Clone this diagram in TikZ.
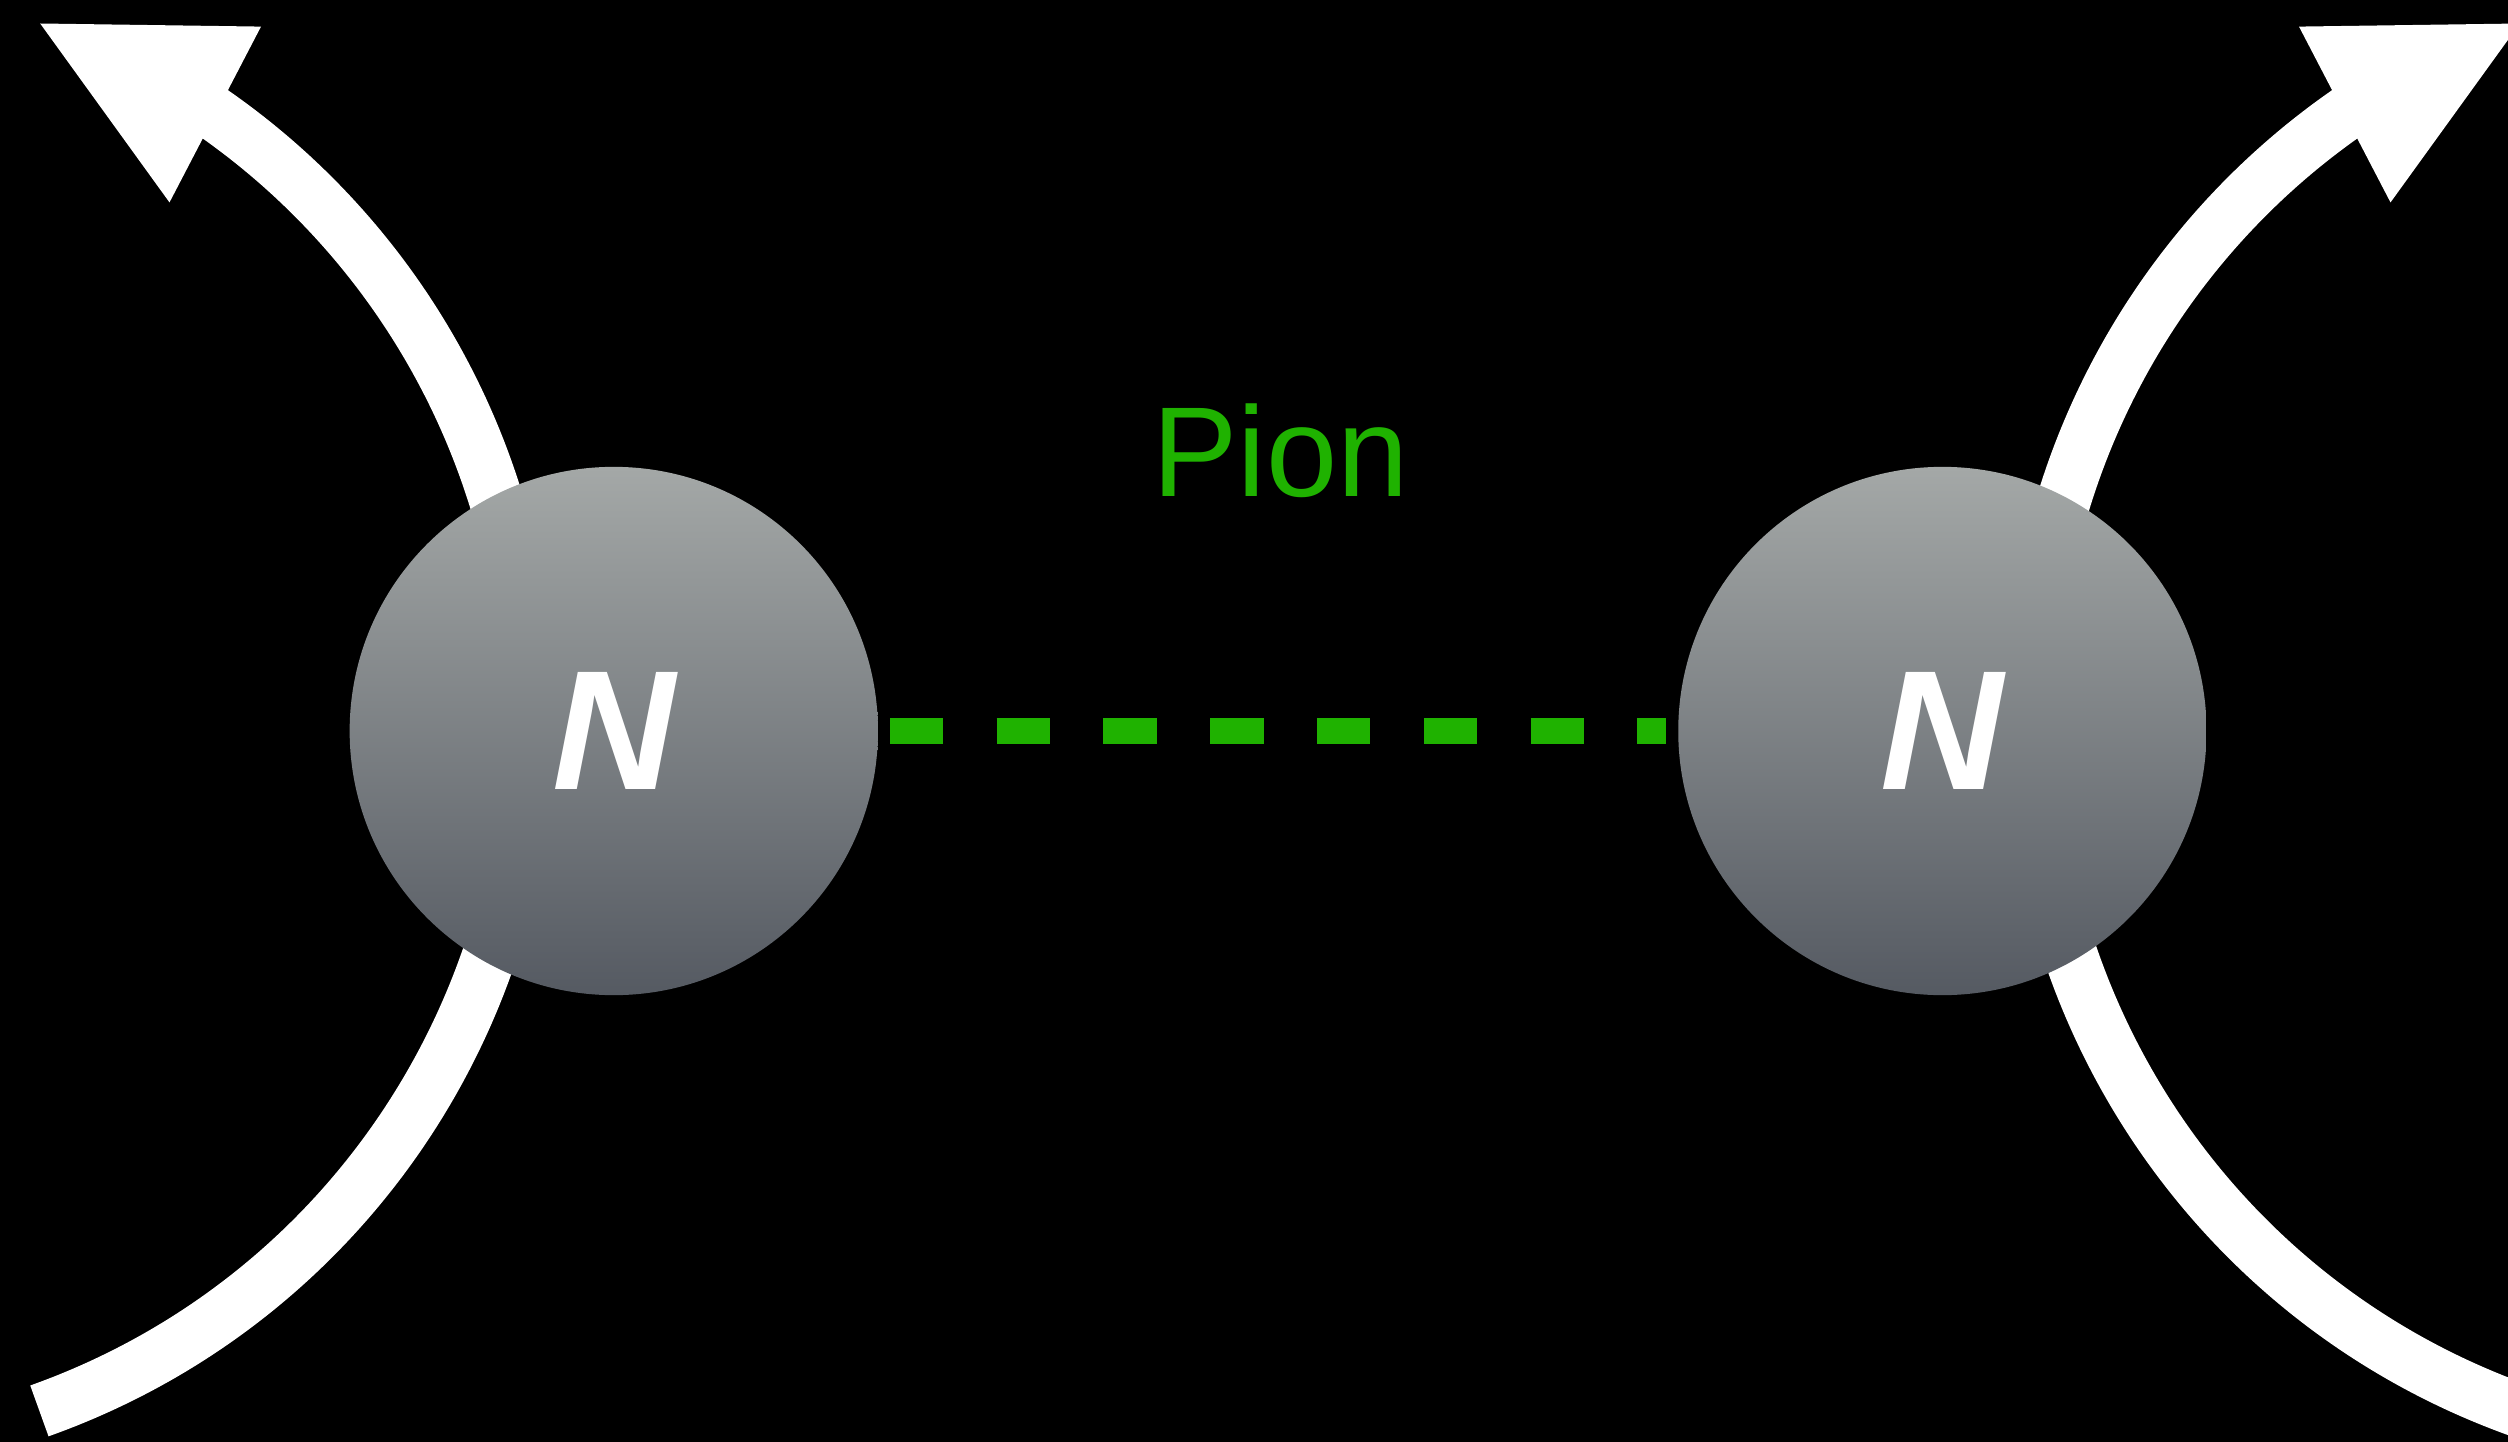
\documentclass[tikz,border=0pt]{standalone}
\usepackage{fontspec}
\setmainfont{Liberation Sans}
\definecolor{piongreen}{RGB}{31,178,0}
\definecolor{ntop}{RGB}{164,168,167}
\definecolor{nbot}{RGB}{85,90,98}
\begin{document}
\begin{tikzpicture}[x=0.01cm,y=0.01cm,
  nucleon/.style={circle, minimum size=5.28cm, inner sep=0pt, outer sep=0pt,
    top color=ntop, bottom color=nbot, draw=none, text=white,
    font=\fontsize{48.4pt}{48.4pt}\selectfont\bfseries\itshape},
  particle/.style={draw=white, line width=0.54cm, line cap=butt},
  arrowtip/.style={fill=white},
  pionline/.style={draw=piongreen, line width=0.267cm, line cap=butt,
    dash pattern=on 0.533cm off 0.534cm, shorten <=0.12cm, shorten >=0.12cm},
  pionlabel/.style={text=piongreen, inner sep=0pt,
    font=\fontsize{36.4pt}{36.4pt}\selectfont}]
\useasboundingbox (0,0) rectangle (2508,1441);
\fill[black] (-20,-20) rectangle (2528,1461);
\clip (-10,-10) rectangle (2518,1451);

% particle lines (incoming ends and arrowheads)
\coordinate (inL) at (39.4,30.1);
\coordinate (inR) at (2520.6,30.1);
\coordinate (tipL) at (40.2,1417.5);
\coordinate (wL1) at (261,1414.4);
\coordinate (wL2) at (169.5,1238.6);
\coordinate (tipR) at (2519.8,1417.5);
\coordinate (wR1) at (2299,1414.4);
\coordinate (wR2) at (2390.5,1238.6);

\draw[particle] (inL) arc[start angle=-70.4, end angle=56, radius=7.36cm];
\fill[arrowtip] (tipL) -- (wL1) -- (wL2) -- cycle;
\draw[particle] (inR) arc[start angle=250.4, end angle=124, radius=7.36cm];
\fill[arrowtip] (tipR) -- (wR1) -- (wR2) -- cycle;

% nucleons
\node[nucleon] (L) at (613.8,710) {N};
\node[nucleon] (R) at (1942.4,710) {N};

% pion exchange
\draw[pionline] (L) -- (R);
\node[pionlabel, anchor=base] (pion) at (1280.5,944.3) {Pion};
\end{tikzpicture}
\end{document}
